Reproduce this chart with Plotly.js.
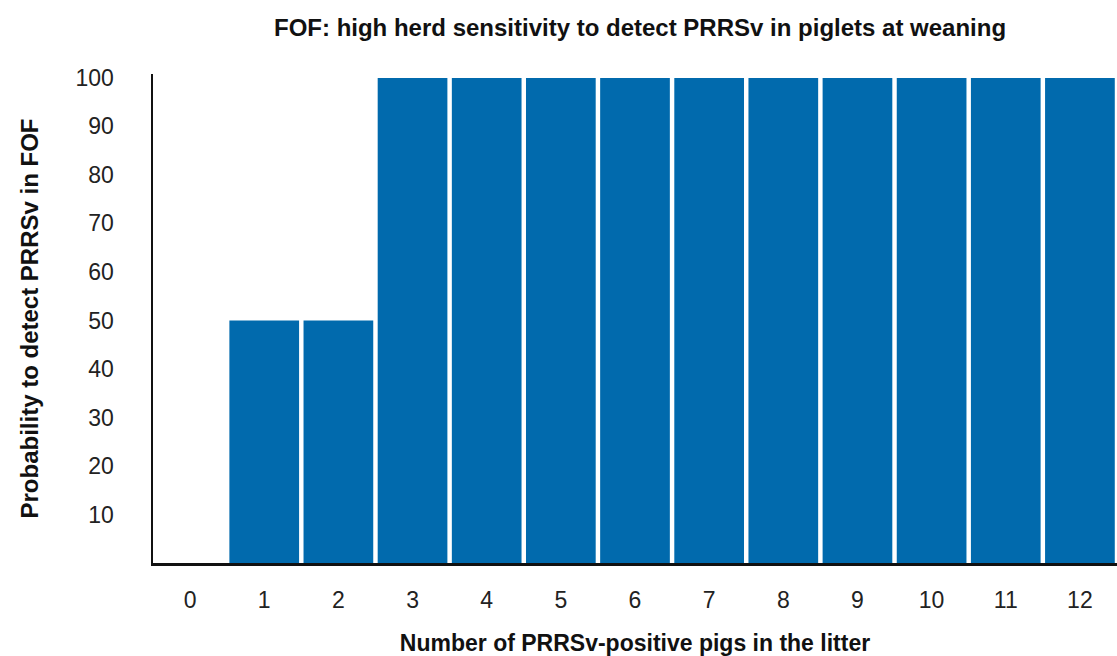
<!DOCTYPE html>
<html><head><meta charset="utf-8">
<script src="https://cdn.plot.ly/plotly-3.0.1.min.js"></script>
<style>html,body{margin:0;padding:0;background:#fff}#c{width:1117px;height:656px}</style>
</head><body><div id="c"></div>
<script>
const pigs = [0,1,2,3,4,5,6,7,8,9,10,11,12];
const probability = [0,50,50,100,100,100,100,100,100,100,100,100,100];
const yTicks = [10,20,30,40,50,60,70,80,90,100];
const titleText = 'FOF: high herd sensitivity to detect PRRSv in piglets at weaning';
const xTitle = 'Number of PRRSv-positive pigs in the litter';
const yTitle = 'Probability to detect PRRSv in FOF';

const font = 'Liberation Sans, Arial, Helvetica, sans-serif';
Plotly.newPlot('c', [{
  type: 'bar', x: pigs, y: probability,
  marker: {color: '#016aad', line: {width: 0}},
  hoverinfo: 'x+y'
}], {
  width: 1117, height: 656,
  margin: {l: 153, r: 0, t: 74, b: 93, pad: 0},
  paper_bgcolor: '#fff', plot_bgcolor: '#fff',
  bargap: 0.06,
  showlegend: false,
  title: {text: '<b>' + titleText + '</b>', x: 0.573, xanchor: 'center', y: 0.958, yanchor: 'middle',
          font: {family: font, size: 24, color: '#111'}},
  xaxis: {
    range: [-0.5, 12.5], tickmode: 'array', tickvals: pigs, ticktext: pigs.map(String),
    showgrid: false, zeroline: false, showline: true, linecolor: '#111', linewidth: 2.5,
    ticks: '', ticklabelstandoff: 15,
    tickfont: {family: font, size: 23, color: '#222'},
    title: {text: '<b>' + xTitle + '</b>', standoff: 24, font: {family: font, size: 23, color: '#111'}}
  },
  yaxis: {
    range: [0, 100.8], tickmode: 'array', tickvals: yTicks, ticktext: yTicks.map(String),
    showgrid: false, zeroline: false, showline: true, linecolor: '#111', linewidth: 2.5,
    ticks: '', ticklabelstandoff: 32,
    tickfont: {family: font, size: 23, color: '#222'},
    title: {text: '<b>' + yTitle + '</b>', standoff: 30, font: {family: font, size: 24, color: '#111'}}
  }
}, {displayModeBar: false, staticPlot: true});
</script></body></html>
